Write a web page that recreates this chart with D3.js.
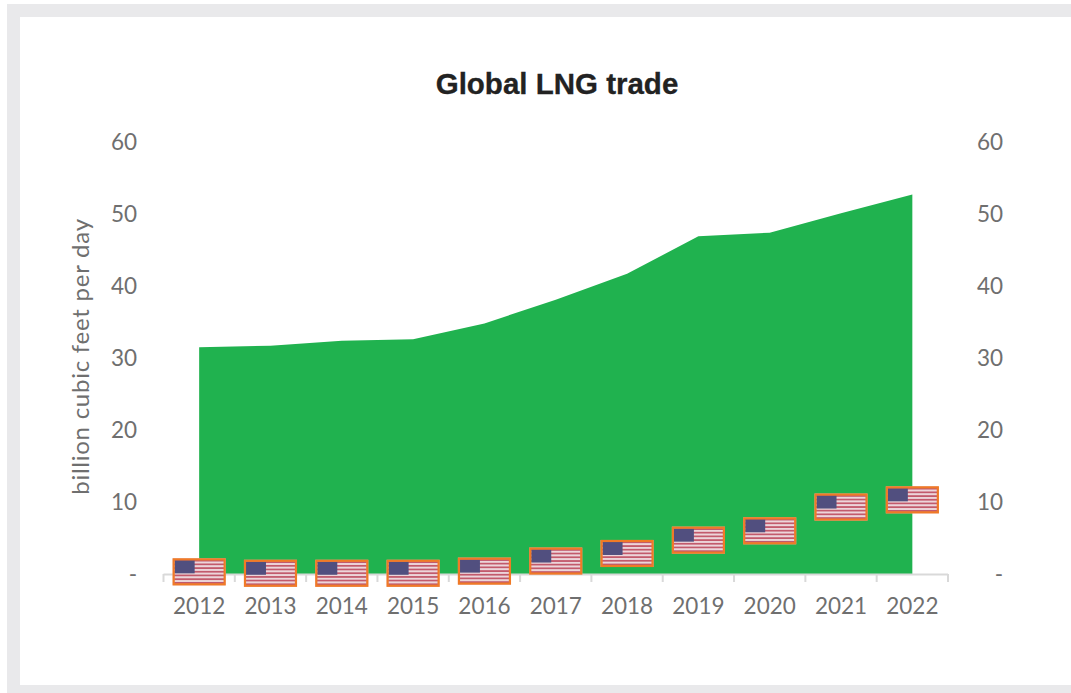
<!DOCTYPE html>
<html><head><meta charset="utf-8">
<script src="https://cdn.jsdelivr.net/npm/d3@7/dist/d3.min.js"></script>
<style>html,body{margin:0;padding:0;background:#fff}svg{display:block}</style></head>
<body><svg id="c" width="1071" height="693"></svg>
<script>
const years=[2012,2013,2014,2015,2016,2017,2018,2019,2020,2021,2022];
const globalTrade=[31.5,31.7,32.4,32.6,34.8,38.1,41.7,46.9,47.4,50.1,52.7];
const usExports=[0.3,0.1,0.1,0.1,0.4,1.8,2.85,4.7,6.0,9.3,10.3];
const yTicks=[0,10,20,30,40,50,60];
const titleText="Global LNG trade";
const yLabel="billion cubic feet per day";

const svg=d3.select("#c");
const defs=svg.append("defs");
defs.append("filter").attr("id","soft").attr("x","-10%").attr("y","-10%").attr("width","120%").attr("height","120%")
  .append("feGaussianBlur").attr("stdDeviation",0.6);
svg.append("rect").attr("x",7).attr("y",4).attr("width",1064).attr("height",689).attr("fill","#e9e9eb");
svg.append("rect").attr("x",20).attr("y",17).attr("width",1051).attr("height",668).attr("fill","#fff");

const x=d3.scaleBand().domain(years).range([163.5,948]);
const cx=d=>x(d)+x.bandwidth()/2;
const y=d3.scaleLinear().domain([0,60]).range([574,142]);
const labelFont="Lato, 'Open Sans', sans-serif";
const gray="#6f6f6f";

svg.append("path").datum(years.map((d,i)=>[d,globalTrade[i]]))
  .attr("fill","#20b24f")
  .attr("d",d3.area().x(d=>cx(d[0])).y0(y(0)).y1(d=>y(d[1])));

const axB=svg.append("g").attr("transform",`translate(0,${y(0)})`)
  .call(d3.axisBottom(x).tickSize(0).tickPadding(24));
axB.select(".domain").remove();
axB.selectAll("text").attr("font-family",labelFont).attr("font-size",22.5).attr("fill",gray);
const edges=years.map(d=>x(d)).concat([x(2022)+x.bandwidth()]);
const tk=svg.append("g");
tk.append("line").attr("x1",x.range()[0]).attr("x2",x.range()[1]).attr("y1",y(0)+0.5).attr("y2",y(0)+0.5).attr("stroke","#d9d9d9").attr("stroke-width",2);
tk.selectAll(".t").data(edges).join("line").attr("x1",d=>d).attr("x2",d=>d).attr("y1",y(0)).attr("y2",y(0)+8).attr("stroke","#d9d9d9").attr("stroke-width",2);

const fmt=d=>d===0?"-":String(d);
[137,1003].forEach(px=>{
  const g=svg.append("g").attr("transform",`translate(${px},0)`)
    .call(d3.axisLeft(y).tickValues(yTicks).tickFormat(fmt).tickSize(0).tickPadding(0));
  g.select(".domain").remove();
  g.selectAll("text").attr("font-family",labelFont).attr("font-size",22.5).attr("fill",gray);
});

svg.append("text").attr("transform","translate(89,356.5) rotate(-90)").attr("text-anchor","middle")
  .attr("font-family",labelFont).attr("font-size",24).attr("letter-spacing",0.75).attr("fill",gray).text(yLabel);
svg.append("text").attr("x",557).attr("y",94).attr("text-anchor","middle")
  .attr("font-family","'Liberation Sans', Arial, sans-serif").attr("font-weight",700).attr("font-size",29.5).attr("fill","#222").attr("stroke","#222").attr("stroke-width",0.3).text(titleText);

// flag markers
const W=53,H=27;
const stripes=d3.range(13);
const flags=svg.append("g").selectAll("g").data(years.map((d,i)=>[d,usExports[i]])).join("g")
  .attr("transform",d=>`translate(${cx(d[0])-W/2},${y(d[1])-H/2})`)
  .attr("filter","url(#soft)");
flags.append("rect").attr("width",W).attr("height",H).attr("fill","#e8c3ca");
flags.each(function(){
  const f=d3.select(this);
  f.selectAll(".s").data(stripes).join("rect").attr("x",1.5).attr("width",W-3)
    .attr("y",s=>1.5+s*(H-3)/13).attr("height",(H-3)/13)
    .attr("fill",s=>s%2?"#ecd5da":"#c25a6c");
  f.append("rect").attr("x",2).attr("y",2).attr("width",20).attr("height",13).attr("fill","#51507f");
  f.append("rect").attr("x",1).attr("y",1).attr("width",W-2).attr("height",H-2).attr("fill","none").attr("stroke","#f07a28").attr("stroke-width",2.2);
});
</script></body></html>
